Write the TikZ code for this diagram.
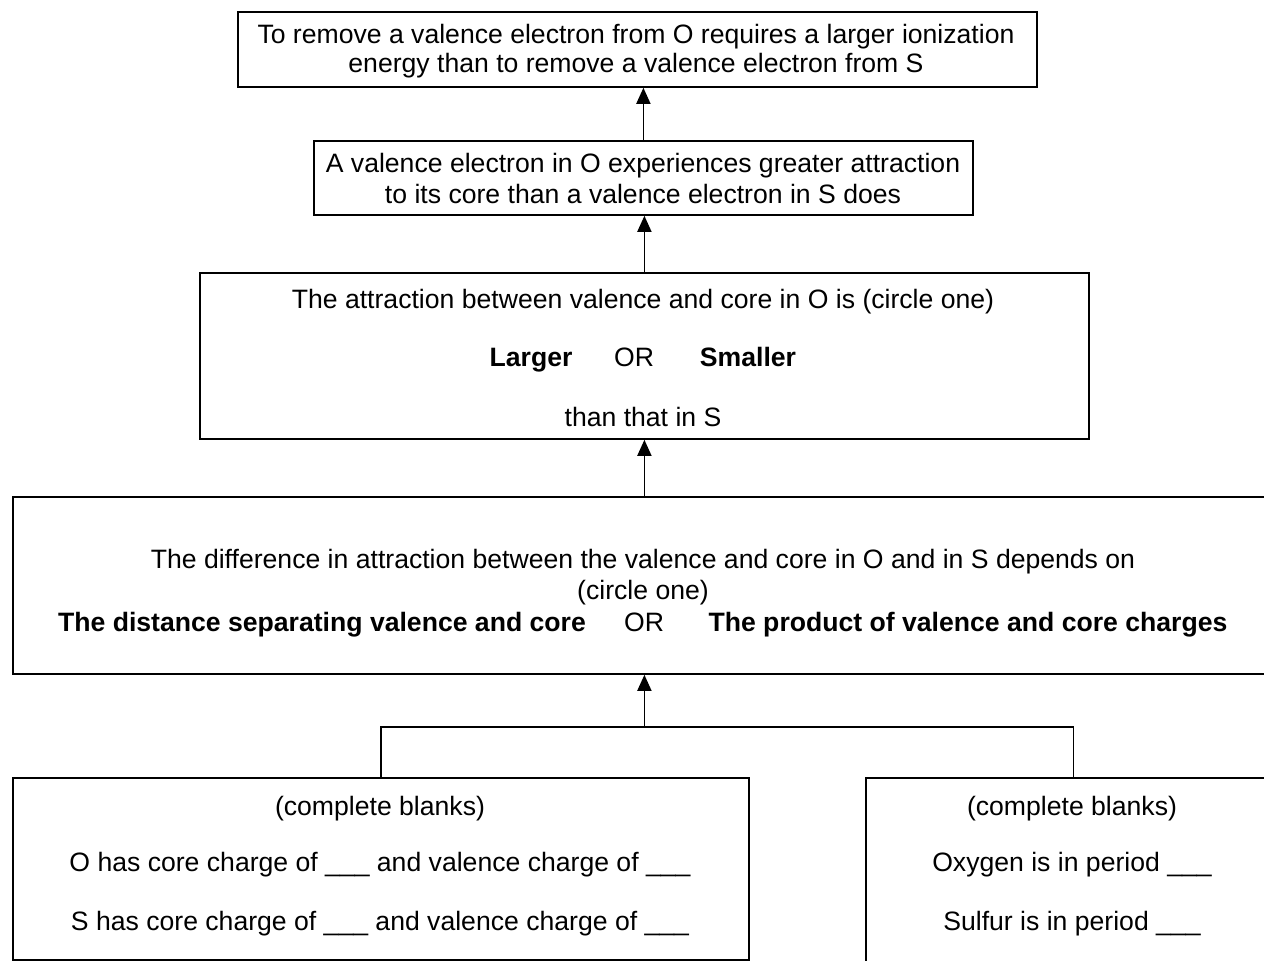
\documentclass[tikz,border=0pt]{standalone}
\usepackage{fontspec}
\setmainfont{Liberation Sans}
\usetikzlibrary{arrows.meta}
\begin{document}
\begin{tikzpicture}[x=1pt,y=-1pt,
  box/.style={draw,line width=1.8pt,rectangle,inner sep=0pt,anchor=north west},
  txt/.style={inner sep=0pt,anchor=base,font=\fontsize{26.6}{29}\selectfont},
  btxt/.style={txt,font=\fontsize{26.6}{29}\selectfont\bfseries},
  conn/.style={line width=1.8pt},
  arr/.style={conn,-{Triangle[width=14pt,length=16pt]}}]
\useasboundingbox (0,0) rectangle (1264,961);
\clip (0,0) rectangle (1264,961);
% boxes
\node[box,minimum width=799pt,minimum height=75pt] (b1) at (237,11) {};
\node[box,minimum width=659pt,minimum height=74pt] (b2) at (313,140) {};
\node[box,minimum width=889pt,minimum height=166pt] (b3) at (199,272) {};
\node[box,minimum width=1290pt,minimum height=177pt] (b4) at (12,496) {};
\node[box,minimum width=736pt,minimum height=182pt] (b5) at (12,777) {};
\node[box,minimum width=415pt,minimum height=200pt] (b6) at (865,777) {};
% texts box 1
\node[txt] (t1a) at (636,43) {To remove a valence electron from O requires a larger ionization};
\node[txt] (t1b) at (636,72) {energy than to remove a valence electron from S};
% box 2
\node[txt] (t2a) at (643,172) {A valence electron in O experiences greater attraction};
\node[txt] (t2b) at (643,203) {to its core than a valence electron in S does};
% box 3
\node[txt] (t3a) at (643,308) {The attraction between valence and core in O is (circle one)};
\node[btxt] (t3b) at (531,366) {Larger};
\node[txt] (t3c) at (634,366) {OR};
\node[btxt] (t3d) at (748,366) {Smaller};
\node[txt] (t3e) at (643,426) {than that in S};
% box 4
\node[txt] (t4a) at (643,568) {The difference in attraction between the valence and core in O and in S depends on};
\node[txt] (t4b) at (643,599) {(circle one)};
\node[btxt] (t4c) at (322,631) {The distance separating valence and core};
\node[txt] (t4d) at (644,631) {OR};
\node[btxt] (t4e) at (968,631) {The product of valence and core charges};
% box 5
\node[txt] (t5a) at (380,815) {(complete blanks)};
\node[txt] (t5b) at (380,871) {O has core charge of \_\_\_ and valence charge of \_\_\_};
\node[txt] (t5c) at (380,930) {S has core charge of \_\_\_ and valence charge of \_\_\_};
% box 6
\node[txt] (t6a) at (1072,815) {(complete blanks)};
\node[txt] (t6b) at (1072,871) {Oxygen is in period \_\_\_};
\node[txt] (t6c) at (1072,930) {Sulfur is in period \_\_\_};
% connectors
\draw[arr] (b2.north) -- (b2.north |- b1.south);
\draw[arr] (b3.north) -- (b3.north |- b2.south);
\draw[arr] (b3.south |- b4.north) -- (b3.south);
\coordinate (j) at (b3.south |- 0,727);
\draw[conn] (b5.north) -- (b5.north |- j) -- (b6.north |- j) -- (b6.north);
\draw[arr] (j) -- (j |- b4.south);
\end{tikzpicture}
\end{document}
